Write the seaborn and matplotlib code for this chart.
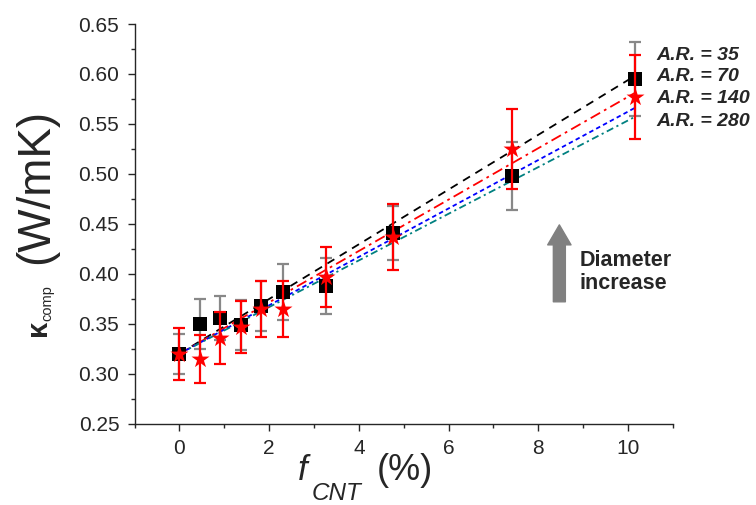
import numpy as np
import pandas as pd
import matplotlib
matplotlib.use("Agg")
import matplotlib.pyplot as plt
from matplotlib.ticker import MultipleLocator, FormatStrFormatter
import seaborn as sns

### Data
f_cnt = [0, 0.45, 0.9, 1.38, 1.81, 2.30, 3.27, 4.77, 7.41, 10.15]
# black squares, grey error bars
k_square = [0.320, 0.3495, 0.3555, 0.3488, 0.368, 0.382, 0.388, 0.441, 0.498, 0.595]
err_square = [0.020, 0.025, 0.022, 0.025, 0.025, 0.028, 0.028, 0.027, 0.034, 0.037]
# red stars, red error bars
k_star = [0.320, 0.3148, 0.3355, 0.3465, 0.3648, 0.3645, 0.3965, 0.4366, 0.5247, 0.5773]
err_star = [0.026, 0.024, 0.026, 0.026, 0.028, 0.028, 0.030, 0.033, 0.040, 0.042]

# model lines (aspect ratio)
fit_x = [0, 10.15]
ar_labels = ["A.R. = 35", "A.R. = 70", "A.R. = 140", "A.R. = 280"]
fit_35 = [0.320, 0.598]
fit_70 = [0.320, 0.581]
fit_140 = [0.320, 0.566]
fit_280 = [0.320, 0.557]

sns.set_style("ticks")
plt.rcParams["font.family"] = ["Liberation Sans", "DejaVu Sans"]

fits = pd.DataFrame({
    "x": fit_x * 4,
    "k": fit_35 + fit_70 + fit_140 + fit_280,
    "AR": [a for a in ar_labels for _ in fit_x],
})

W, H = 756, 505
fig = plt.figure(figsize=(W / 100, H / 100), dpi=100)
ax = fig.add_axes([0.178, 0.161, 0.712, 0.7914])

# model lines
palette = dict(zip(ar_labels, ["black", "red", "blue", "#008080"]))
dashes = dict(zip(ar_labels, [(4.5, 3.5), (6, 2.5, 1.5, 2.5), (2.5, 1.8), (4, 2, 1.2, 2)]))
sns.lineplot(data=fits, x="x", y="k", hue="AR", style="AR", palette=palette,
             dashes=dashes, linewidth=1.3, legend=False, ax=ax, zorder=2)

# grey error bars + black squares
ax.errorbar(f_cnt, k_square, yerr=err_square, fmt="none", ecolor="#888888",
            elinewidth=1.6, capsize=4.4, capthick=1.6, zorder=3)
sns.scatterplot(x=f_cnt, y=k_square, marker="s", s=92, color="black",
                linewidth=0, ax=ax, zorder=4)

# red error bars + red stars
ax.errorbar(f_cnt, k_star, yerr=err_star, fmt="none", ecolor="red",
            elinewidth=1.6, capsize=4.4, capthick=1.6, zorder=5)
sns.scatterplot(x=f_cnt, y=k_star, marker="*", s=185, color="red",
                linewidth=0, ax=ax, zorder=6)

# axes
ax.set_xlim(-1, 11)
ax.set_ylim(0.25, 0.65)
ax.xaxis.set_major_locator(MultipleLocator(2))
ax.xaxis.set_minor_locator(MultipleLocator(1))
ax.yaxis.set_major_locator(MultipleLocator(0.05))
ax.yaxis.set_minor_locator(MultipleLocator(0.025))
ax.yaxis.set_major_formatter(FormatStrFormatter("%.2f"))
ax.tick_params(which="major", direction="out", length=5, width=1, labelsize=15, pad=6)
ax.tick_params(which="minor", direction="out", length=3, width=1)
for s in ["top", "right"]:
    ax.spines[s].set_visible(False)
for s in ["left", "bottom"]:
    ax.spines[s].set_linewidth(1)
ax.set_xlabel("")
ax.set_ylabel("")

# x label in pieces: f, subscript CNT, (%)
fig.text(298 / W, 1 - 480 / H, "f", fontsize=25, fontstyle="italic",
         ha="left", va="baseline")
fig.text(312 / W, 1 - 500 / H, "CNT", fontsize=17.5, fontstyle="italic",
         ha="left", va="baseline")
fig.text(377 / W, 1 - 480 / H, "(%)", fontsize=26, ha="left", va="baseline")

# y label in pieces (different sizes as in the original)
fig.text(37.5 / W, 1 - 328 / H, "κ", fontsize=21, fontweight="bold",
         rotation=90, ha="center", va="center")
fig.text(47.5 / W, 1 - 303 / H, "comp", fontsize=10.5,
         rotation=90, ha="center", va="center")
fig.text(36 / W, 1 - 186 / H, "(W/mK)", fontsize=33,
         rotation=90, ha="center", va="center")

# aspect ratio labels
for lab, yy in zip(ar_labels, [0.619, 0.5973, 0.5755, 0.552]):
    ax.text(10.64, yy, lab, fontsize=14, fontweight="bold", fontstyle="italic",
            ha="left", va="center")

# arrow + annotation
ax.annotate("", xy=(8.47, 0.449), xytext=(8.47, 0.372),
            arrowprops=dict(arrowstyle="simple,head_length=1.2,head_width=1.4,tail_width=0.72",
                            color="#808080", shrinkA=0, shrinkB=0, mutation_scale=12))
ax.text(8.93, 0.402, "Diameter\nincrease", fontsize=15.5, fontweight="bold",
        ha="left", va="center", linespacing=1.15)

fig.savefig("out.png", dpi=100)
